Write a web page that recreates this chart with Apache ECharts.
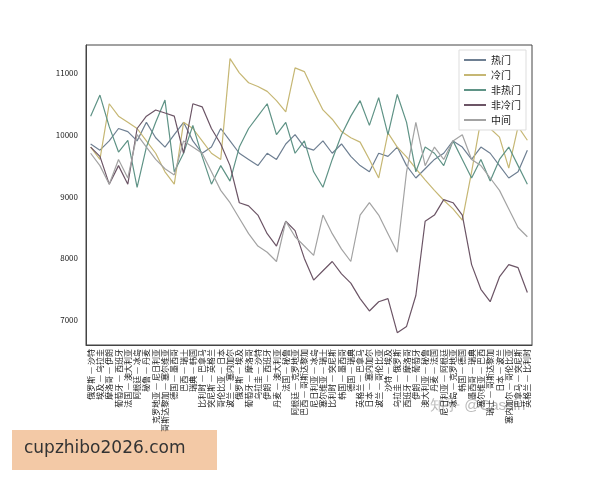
<!DOCTYPE html>
<html>
<head>
<meta charset="utf-8">
<script src="https://cdn.jsdelivr.net/npm/echarts@6/dist/echarts.min.js"></script>
<style>html,body{margin:0;background:#fff}#c{width:600px;height:480px}</style>
</head>
<body>
<div id="c"></div>
<script>
// 比赛（小组赛顺序）
const matches = ['俄罗斯 — 沙特', '埃及 — 乌拉圭', '摩洛哥 — 伊朗', '葡萄牙 — 西班牙', '法国 — 澳大利亚', '阿根廷 — 冰岛',
  '秘鲁 — 丹麦', '克罗地亚 — 尼日利亚', '哥斯达黎加 — 塞尔维亚', '德国 — 墨西哥', '巴西 — 瑞士', '瑞典 — 韩国',
  '比利时 — 巴拿马', '突尼斯 — 英格兰', '哥伦比亚 — 日本', '波兰 — 塞内加尔', '俄罗斯 — 埃及', '葡萄牙 — 摩洛哥',
  '乌拉圭 — 沙特', '伊朗 — 西班牙', '丹麦 — 澳大利亚', '法国 — 秘鲁', '阿根廷 — 克罗地亚', '巴西 — 哥斯达黎加',
  '尼日利亚 — 冰岛', '塞尔维亚 — 瑞士', '比利时 — 突尼斯', '韩国 — 墨西哥', '德国 — 瑞典', '英格兰 — 巴拿马',
  '日本 — 塞内加尔', '波兰 — 哥伦比亚', '沙特 — 埃及', '乌拉圭 — 俄罗斯', '西班牙 — 摩洛哥', '伊朗 — 葡萄牙',
  '澳大利亚 — 秘鲁', '丹麦 — 法国', '尼日利亚 — 阿根廷', '冰岛 — 克罗地亚', '韩国 — 德国', '墨西哥 — 瑞典',
  '塞尔维亚 — 巴西', '瑞士 — 哥斯达黎加', '日本 — 波兰', '塞内加尔 — 哥伦比亚', '巴拿马 — 突尼斯', '英格兰 — 比利时']

const hot = [9850, 9750, 9900, 10100, 10050, 9900, 10200, 9950, 9800, 10000, 10200, 9900, 9700, 9800, 10100, 9900,
  9700, 9600, 9500, 9700, 9600, 9850, 10000, 9800, 9750, 9900, 9700, 9850, 9650, 9500, 9400, 9700,
  9650, 9800, 9500, 9300, 9450, 9600, 9700, 9900, 9800, 9600, 9800, 9700, 9500, 9300, 9400, 9750]
const cold = [9800, 9600, 10500, 10300, 10200, 10100, 9900, 9700, 9400, 9200, 10200, 10100, 9900, 9700, 9600, 11230,
  11000, 10840, 10780, 10700, 10550, 10370, 11080, 11020, 10700, 10400, 10250, 10050, 9950, 9880, 9600, 9300,
  10030, 9800, 9640, 9450, 9270, 9100, 8940, 8800, 8620, 9400, 10240, 10100, 9960, 9460, 10130, 9910]
const notHot = [10300, 10640, 10130, 9720, 9910, 9150, 9800, 10200, 10560, 9400, 9700, 10150, 9650, 9200, 9500, 9250,
  9800, 10100, 10300, 10500, 10000, 10200, 9700, 9900, 9400, 9150, 9600, 10000, 10300, 10550, 10150, 10600,
  10000, 10650, 10200, 9400, 9800, 9700, 9500, 9900, 9600, 9300, 9600, 9250, 9600, 9800, 9500, 9200]
const notCold = [9800, 9650, 9200, 9500, 9200, 10100, 10300, 10400, 10350, 10300, 9700, 10500, 10450, 10100, 9850, 9500,
  8900, 8850, 8700, 8400, 8200, 8600, 8450, 8000, 7650, 7800, 7950, 7750, 7600, 7350, 7150, 7300,
  7350, 6800, 6900, 7400, 8600, 8700, 8950, 8900, 8700, 7900, 7500, 7300, 7700, 7900, 7850, 7450]
const middle = [9700, 9500, 9200, 9600, 9300, 10000, 9800, 9600, 9450, 9350, 9900, 9800, 9700, 9400, 9100, 8900,
  8650, 8400, 8200, 8100, 7950, 8600, 8350, 8200, 8050, 8700, 8400, 8150, 7950, 8700, 8900, 8700,
  8400, 8100, 9400, 10200, 9500, 9800, 9600, 9900, 10000, 9600, 9500, 9300, 9100, 8800, 8500, 8350]

const names = ['热门', '冷门', '非热门', '非冷门', '中间']
const colors = ['#6e7f92', '#c6b774', '#5f9386', '#6c5566', '#a3a3a3']
const values = [hot, cold, notHot, notCold, middle]

const chart = echarts.init(document.getElementById('c'))
chart.setOption({
  animation: false,
  color: colors,
  textStyle: { fontFamily: 'Noto Sans CJK SC' },
  grid: { left: 86, right: 68, top: 45, bottom: 135, show: true, borderColor: '#444', borderWidth: 1 },
  legend: {
    orient: 'vertical', right: 74, top: 50, itemWidth: 22, itemHeight: 2, itemGap: 5,
    icon: 'rect', backgroundColor: '#fff', borderColor: '#ddd', borderWidth: 1, padding: 5,
    textStyle: { fontSize: 10, color: '#222' },
    data: names
  },
  xAxis: {
    type: 'category', data: matches, boundaryGap: true,
    axisLine: { lineStyle: { color: '#444' } },
    axisTick: { interval: 0, alignWithLabel: true, lineStyle: { color: '#444' } },
    axisLabel: { interval: 0, rotate: 90, fontSize: 8, color: '#222', margin: 4 }
  },
  yAxis: {
    type: 'value', min: 6600, max: 11450, interval: 200,
    splitLine: { show: false },
    axisLine: { show: true, lineStyle: { color: '#444' } },
    axisTick: { show: false },
    axisLabel: { fontSize: 8, color: '#222', formatter: v => (v % 1000 === 0 ? v : '') }
  },
  series: names.map((n, i) => ({
    name: n, type: 'line', data: values[i], symbol: 'none',
    lineStyle: { width: 1.2 }
  })),
  graphic: [
    { type: 'text', left: 430, top: 398, style: { text: '知乎 @Cassin', fill: '#bbb', fontSize: 15 } },
    { type: 'rect', shape: { x: 12, y: 430, width: 205, height: 40 }, style: { fill: '#f3c9a6' } },
    { type: 'text', left: 24, top: 440, style: { text: 'cupzhibo2026.com', fill: '#333', fontSize: 17, fontFamily: 'DejaVu Sans' } }
  ]
})
</script>
</body>
</html>
